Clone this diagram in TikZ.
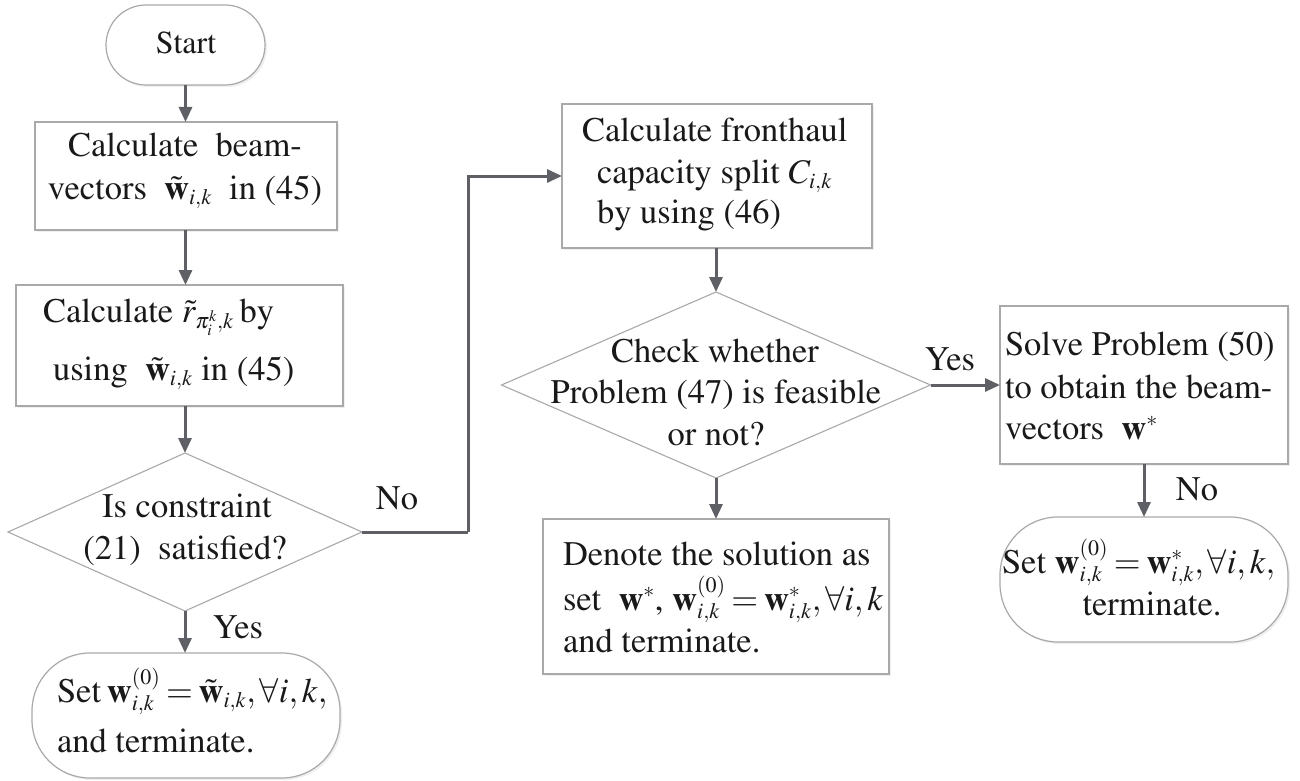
\documentclass[tikz,border=0pt]{standalone}
\usepackage[T1]{fontenc}
\usepackage{mathptmx}
\DeclareMathSizes{34.5}{34.5}{22}{16}
\newcommand{\tightmath}{\thickmuskip=3mu\relax\medmuskip=3mu\relax}
\usetikzlibrary{arrows.meta,shapes.geometric,shadows}
\definecolor{arrowgray}{HTML}{5E6066}
\definecolor{bordergray}{HTML}{A9A9A9}
\begin{document}
\begin{tikzpicture}[x=1pt,y=-1pt,
  every node/.style={inner sep=0pt,outer sep=0pt},
  shapebox/.style={draw=bordergray,line width=1.2pt,fill=white,rectangle,
    drop shadow={opacity=0.12,shadow xshift=2pt,shadow yshift=-2pt}},
  termbox/.style={shapebox,rounded corners=58pt},
  decbox/.style={draw=bordergray,line width=1.1pt,fill=white,diamond},
  arr/.style={draw=arrowgray,line width=3pt,-{Triangle[length=15pt,width=13pt]}},
  conn/.style={draw=arrowgray,line width=3pt},
  txt/.style={font={\rmfamily\fontsize{34.5}{41}\selectfont\tightmath},text=black!90},
  stxt/.style={font={\rmfamily\fontsize{32}{38}\selectfont},text=black!90}]
\useasboundingbox (0,0) rectangle (1300,781);
\fill[white] (0,0) rectangle (1300,781);

% shapes
\node[shapebox,rounded corners=40pt,minimum width=159pt,minimum height=80pt] (start) at (185.5,45) {};
\node[shapebox,minimum width=302pt,minimum height=108pt] (b1) at (186,176) {};
\node[shapebox,minimum width=327pt,minimum height=121pt] (b2) at (179.5,345.5) {};
\node[decbox,minimum width=354pt,minimum height=158pt] (d1) at (185,532) {};
\node[termbox,minimum width=308pt,minimum height=125pt] (t1) at (186,715.5) {};
\node[shapebox,minimum width=310pt,minimum height=144pt] (b3) at (717,176) {};
\node[decbox,minimum width=429pt,minimum height=186pt] (d2) at (716,385) {};
\node[shapebox,minimum width=346pt,minimum height=155pt] (b5) at (716,596.5) {};
\node[shapebox,minimum width=288pt,minimum height=158pt] (b4) at (1144,385) {};
\node[termbox,minimum width=288pt,minimum height=125pt] (t2) at (1144,579.5) {};

% texts
\node[stxt,anchor=base] (startT) at (186,54) {Start};

\node[txt,anchor=base] (b1a) at (185,157) {Calculate\ \ beam-};
\node[txt,anchor=base] (b1b) at (185,199) {vectors \ $\tilde{\mathbf{w}}_{i,k}$ \ in (45)};

\node[txt,anchor=base west] (b2a) at (43,322) {Calculate $\tilde{r}_{\pi_i^k,k}$\,by};
\node[txt,anchor=base west] (b2b) at (53,380) {using \ $\tilde{\mathbf{w}}_{i,k}$ in (45)};

\node[txt,anchor=base] (d1a) at (187,517) {Is constraint};
\node[txt,anchor=base] (d1b) at (185,559) {(21) \ satisfied?};

\node[txt,anchor=base] (no1) at (397,509) {No};
\node[txt,anchor=base] (yes1) at (238,638) {Yes};

\node[txt,anchor=base west] (t1a) at (57,702) {Set\,$\mathbf{w}_{i,k}^{(0)}=\tilde{\mathbf{w}}_{i,k},\forall i,k,$};
\node[txt,anchor=base west] (t1b) at (57,752) {and terminate.};

\node[txt,anchor=base west] (b3a) at (582,142) {Calculate fronthaul};
\node[txt,anchor=base west] (b3b) at (597,183) {capacity split $C_{i,k}$};
\node[txt,anchor=base west] (b3c) at (597,223) {by using (46)};

\node[txt,anchor=base] (d2a) at (715,362) {Check whether};
\node[txt,anchor=base] (d2b) at (716,403) {Problem (47) is feasible};
\node[txt,anchor=base] (d2c) at (716,445) {or not?};

\node[txt,anchor=base] (yes2) at (950,370) {Yes};

\node[txt,anchor=base west] (b4a) at (1005,355) {Solve Problem (50)};
\node[txt,anchor=base west] (b4b) at (1005,398) {to obtain the beam-};
\node[txt,anchor=base west] (b4c) at (1005,439) {vectors \ $\mathbf{w}^{*}$};

\node[txt,anchor=base] (no2) at (1197,500) {No};

\node[txt,anchor=base west] (t2a) at (1002,573) {Set $\mathbf{w}_{i,k}^{(0)}=\mathbf{w}_{i,k}^{*},\forall i,k,$};
\node[txt,anchor=base] (t2b) at (1152,615) {terminate.};

\node[txt,anchor=base west] (b5a) at (563,565) {Denote the solution as};
\node[txt,anchor=base west] (b5b) at (563,610) {set \ $\mathbf{w}^{*}$, $\mathbf{w}_{i,k}^{(0)}=\mathbf{w}_{i,k}^{*},\forall i,k$};
\node[txt,anchor=base west] (b5c) at (563,652) {and terminate.};

% connectors
\coordinate (elbow) at (468,532);
\draw[arr] (start.south) -- (b1.north -| start.south);
\draw[arr] (b1.south -| start.south) -- (b2.north -| start.south);
\draw[arr] (b2.south -| d1.north) -- (d1.north);
\draw[arr] (d1.south) -- (t1.north -| d1.south);
\draw[conn] (d1.east) -- (elbow);
\draw[arr] (elbow) |- (b3.west);
\draw[arr] (b3.south -| d2.north) -- (d2.north);
\draw[arr] (d2.south) -- (b5.north -| d2.south);
\draw[arr] (d2.east) -- (b4.west);
\draw[arr] (b4.south) -- (t2.north);
\end{tikzpicture}
\end{document}
